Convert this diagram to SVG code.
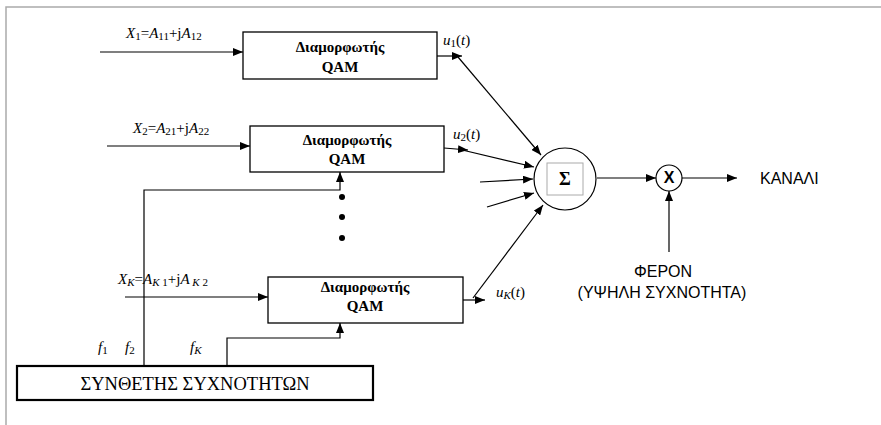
<svg xmlns="http://www.w3.org/2000/svg" width="881" height="425" viewBox="0 0 881 425">
<defs>
<marker id="ah" viewBox="0 0 10 8" refX="10" refY="4" markerWidth="10" markerHeight="8" markerUnits="userSpaceOnUse" orient="auto">
<path d="M0,0 L10,4 L0,8 Z" fill="#000"/>
</marker>
</defs>
<style>
.box{fill:#fff;stroke:#000;stroke-width:1.3}
.ln{fill:none;stroke:#000;stroke-width:1.2}
.ar{fill:none;stroke:#000;stroke-width:1.2;marker-end:url(#ah)}
.bt{font-family:"Liberation Serif",serif;font-weight:bold;font-size:15px;text-anchor:middle}
.it{font-family:"Liberation Serif",serif;font-size:15px}
.i{font-style:italic}
.sb{font-size:11px}
.sans{font-family:"Liberation Sans",Arial,sans-serif;font-size:16px}
</style>
<rect width="881" height="425" fill="#fff"/>
<path d="M6,425 V7 H881" fill="none" stroke="#aaa" stroke-width="1.5"/>

<g id="connectors">
<line class="ar" x1="100" y1="52" x2="243" y2="52"/>
<line class="ar" x1="437" y1="56" x2="462" y2="56"/>
<line class="ar" x1="458" y1="57" x2="541" y2="155"/>
<line class="ar" x1="107" y1="146" x2="250" y2="146"/>
<line class="ar" x1="444" y1="148" x2="468" y2="150"/>
<line class="ar" x1="458" y1="149" x2="534" y2="167"/>
<line class="ar" x1="480" y1="182" x2="533" y2="179"/>
<line class="ar" x1="487" y1="207" x2="534" y2="193"/>
<line class="ar" x1="125" y1="297" x2="268" y2="297"/>
<line class="ar" x1="463" y1="300" x2="485" y2="300"/>
<line class="ar" x1="473" y1="298" x2="543" y2="205"/>
<polyline class="ar" points="144,366 144,190 340,190 340,172"/>
<polyline class="ar" points="227,366 227,338 340,338 340,323"/>
<line class="ar" x1="597" y1="178" x2="656" y2="178"/>
<line class="ar" x1="682" y1="178" x2="737" y2="178"/>
<line class="ar" x1="669" y1="252" x2="669" y2="191"/>
</g>

<g id="mod1">
<rect class="box" x="243" y="32" width="194" height="47"/>
<text class="bt" x="340" y="52">Διαμορφωτής</text>
<text class="bt" x="340" y="72">QAM</text>
</g>
<g id="mod2">
<rect class="box" x="250" y="126" width="194" height="46"/>
<text class="bt" x="347" y="145">Διαμορφωτής</text>
<text class="bt" x="347" y="164">QAM</text>
</g>
<g id="modK">
<rect class="box" x="268" y="277" width="195" height="46"/>
<text class="bt" x="365" y="292">Διαμορφωτής</text>
<text class="bt" x="365" y="311">QAM</text>
</g>
<g id="dots">
<circle cx="342" cy="197" r="3"/>
<circle cx="342" cy="217" r="3"/>
<circle cx="342" cy="238" r="3"/>
</g>
<g id="sum">
<circle cx="565" cy="179" r="31" fill="#fff" stroke="#000" stroke-width="1.2"/>
<rect x="547" y="163" width="36" height="32" fill="none" stroke="#aaa" stroke-width="1"/>
<text class="bt" x="565" y="185" style="font-size:18px">Σ</text>
</g>
<g id="mixer">
<circle cx="669" cy="178" r="13" fill="#fff" stroke="#000" stroke-width="1.2"/>
<text x="669" y="183" style="font-family:'Liberation Sans',Arial,sans-serif;font-weight:bold;font-size:16px;text-anchor:middle">X</text>
</g>
<g id="synth">
<rect x="17" y="366" width="356" height="34" fill="#fff" stroke="#000" stroke-width="2.2"/>
<text x="195" y="390" style="font-family:'Liberation Serif',serif;font-size:18.5px;text-anchor:middle">ΣΥΝΘΕΤΗΣ ΣΥΧΝΟΤΗΤΩΝ</text>
</g>
<g id="labels">
<text class="it" x="126" y="38"><tspan class="i">X</tspan><tspan class="sb" dy="2">1</tspan><tspan dy="-2">=</tspan><tspan class="i">A</tspan><tspan class="sb" dy="2">11</tspan><tspan dy="-2">+j</tspan><tspan class="i">A</tspan><tspan class="sb" dy="2">12</tspan></text>
<text class="it" x="133" y="133"><tspan class="i">X</tspan><tspan class="sb" dy="2">2</tspan><tspan dy="-2">=</tspan><tspan class="i">A</tspan><tspan class="sb" dy="2">21</tspan><tspan dy="-2">+j</tspan><tspan class="i">A</tspan><tspan class="sb" dy="2">22</tspan></text>
<text class="it" x="118" y="284"><tspan class="i">X</tspan><tspan class="sb i" dy="2">K</tspan><tspan dy="-2">=</tspan><tspan class="i">A</tspan><tspan class="sb" dy="2"><tspan class="i">K</tspan> 1</tspan><tspan dy="-2">+j</tspan><tspan class="i">A</tspan><tspan class="sb" dy="2"> <tspan class="i">K</tspan> 2</tspan></text>
<text class="it" x="443" y="45"><tspan class="i">u</tspan><tspan class="sb" dy="2">1</tspan><tspan dy="-2">(</tspan><tspan class="i">t</tspan>)</text>
<text class="it" x="453" y="139"><tspan class="i">u</tspan><tspan class="sb" dy="2">2</tspan><tspan dy="-2">(</tspan><tspan class="i">t</tspan>)</text>
<text class="it" x="496" y="297"><tspan class="i">u</tspan><tspan class="sb i" dy="2">K</tspan><tspan dy="-2">(</tspan><tspan class="i">t</tspan>)</text>
<text class="it" x="98" y="352"><tspan class="i">f</tspan><tspan class="sb" dy="2">1</tspan></text>
<text class="it" x="125" y="352"><tspan class="i">f</tspan><tspan class="sb" dy="2">2</tspan></text>
<text class="it" x="190" y="352"><tspan class="i">f</tspan><tspan class="sb i" dy="2">K</tspan></text>
<text class="sans" x="760" y="184">ΚΑΝΑΛΙ</text>
<text class="sans" x="663" y="277" text-anchor="middle">ΦΕΡΟΝ</text>
<text class="sans" x="662" y="298" text-anchor="middle">(ΥΨΗΛΗ ΣΥΧΝΟΤΗΤΑ)</text>
</g>
</svg>
